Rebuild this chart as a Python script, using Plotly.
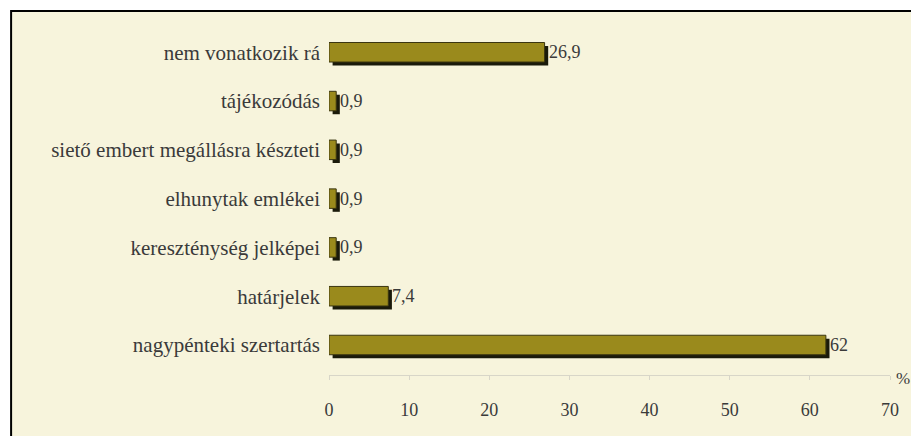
import plotly.graph_objects as go

categories = [
    "nagypénteki szertartás",
    "határjelek",
    "kereszténység jelképei",
    "elhunytak emlékei",
    "siető embert megállásra készteti",
    "tájékozódás",
    "nem vonatkozik rá",
]
values = [62, 7.4, 0.9, 0.9, 0.9, 0.9, 26.9]
x_ticks = [0, 10, 20, 30, 40, 50, 60, 70]

positions = list(range(len(categories)))
labels = [f"{v:g}".replace(".", ",") for v in values]

FONT = "Liberation Serif, Times New Roman, serif"
BAR = "#9a8a1c"
SHADOW = "#1a1a0a"
CREAM = "#f7f4dc"
TEXT = "#3a3a3a"
SIZE = 21

# layout geometry in pixels
W, H = 911, 436
L, R, T, B = 329, W - 899, 23, H - 375
pw, ph = W - L - R, H - T - B


def px_x(p):
    return (p - L) / pw


def px_y(p):
    return (H - B - p) / ph


fig = go.Figure()

# drop shadow behind each bar
sx, sy = 0.45, 0.07
fig.add_trace(go.Bar(
    y=[p - sy for p in positions], x=values, base=sx,
    orientation="h", width=0.4,
    marker=dict(color=SHADOW, line=dict(width=0)),
    hoverinfo="skip", showlegend=False,
))
fig.add_trace(go.Bar(
    y=positions, x=values, orientation="h", width=0.4,
    marker=dict(color=BAR, line=dict(color="#3a3510", width=1)),
    showlegend=False,
))

for p, v, t in zip(positions, values, labels):
    fig.add_annotation(
        x=v, y=p, text=t, showarrow=False, xanchor="left", xshift=2,
        font=dict(family=FONT, size=18, color=TEXT),
    )

fig.add_annotation(
    x=px_x(903), y=px_y(390), xref="paper", yref="paper", text="%",
    showarrow=False, xanchor="left", font=dict(family=FONT, size=17, color=TEXT),
)

# cream panel with black frame
fig.add_shape(
    type="rect", xref="paper", yref="paper", layer="below",
    x0=px_x(6), x1=px_x(W + 30), y0=px_y(H + 30), y1=px_y(11),
    fillcolor=CREAM, line=dict(color="black", width=2),
)

fig.update_layout(
    width=W, height=H,
    margin=dict(l=L, r=R, t=T, b=B),
    paper_bgcolor="white", plot_bgcolor="rgba(0,0,0,0)",
    barmode="overlay",
    font=dict(family=FONT, size=SIZE, color=TEXT),
    xaxis=dict(
        range=[0, 70], tickvals=x_ticks, showgrid=False, zeroline=False,
        showline=True, linecolor="#d8d6c8", linewidth=1,
        ticks="outside", ticklen=4, tickcolor="#d8d6c8",
        ticklabelstandoff=14, tickfont=dict(family=FONT, size=18, color=TEXT),
    ),
    yaxis=dict(
        range=[-0.615, 6.6], tickvals=positions, ticktext=categories,
        showgrid=False, zeroline=False, showline=False, ticks="",
        ticklabelstandoff=8, tickfont=dict(family=FONT, size=SIZE, color=TEXT),
    ),
)

fig.write_html("out.html")
